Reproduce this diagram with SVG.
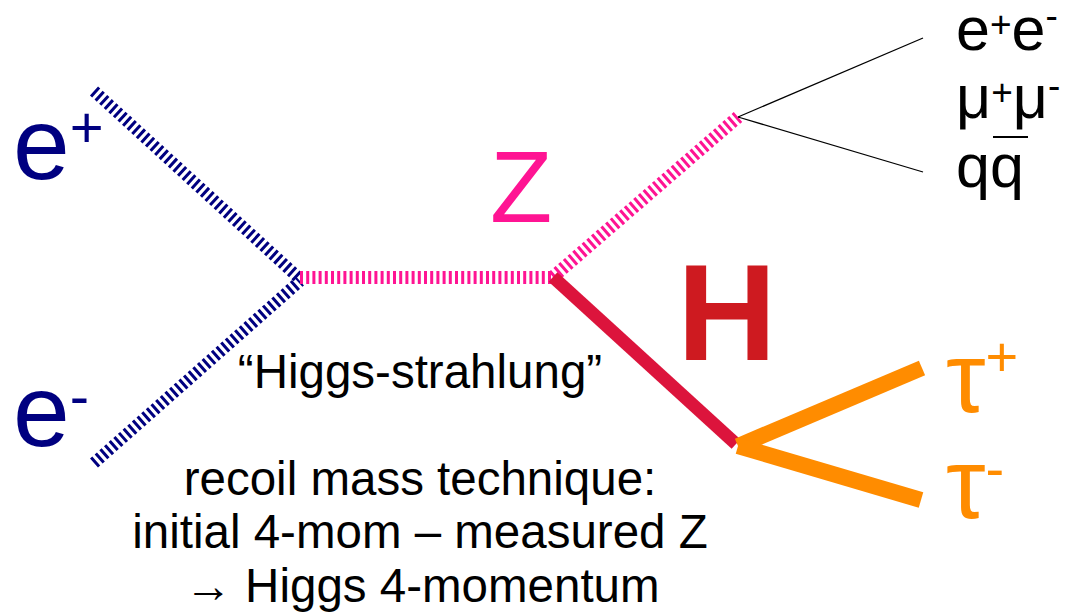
<svg xmlns="http://www.w3.org/2000/svg" width="1081" height="613" viewBox="0 0 1081 613">
  <style>
    text { font-family: "Liberation Sans", Arial, sans-serif; }
    .fermion { stroke: #000080; stroke-width: 12; stroke-dasharray: 3 3.2; fill: none; }
    .zboson { stroke: #FF1493; stroke-width: 13; stroke-dasharray: 3 3.2; fill: none; }
    .higgs { stroke: #DC143C; stroke-width: 13; fill: none; }
    .tau { stroke: #FF8C00; stroke-width: 16; fill: none; }
    .decay { stroke: #000000; stroke-width: 1.3; fill: none; }
    .lbl-e { fill: #000080; font-size: 102px; }
    .lbl-right { fill: #000000; font-size: 61px; }
    .sup { font-size: 37px; }
    .lbl-tau { fill: #FF8C00; font-size: 100px; }
    .caption { fill: #000000; font-size: 47.5px; text-anchor: middle; }
  </style>

  <rect width="1081" height="613" fill="#ffffff"/>

  <!-- propagators and external legs -->
  <g id="connectors">
    <line class="fermion" x1="94" y1="91" x2="300" y2="279"/>
    <line class="fermion" x1="94" y1="463" x2="300" y2="281"/>
    <line class="zboson" x1="300" y1="277.5" x2="553" y2="277.5"/>
    <line class="zboson" x1="553" y1="277" x2="738" y2="117"/>
    <line class="higgs" x1="553" y1="277" x2="736" y2="444"/>
    <line class="tau" x1="738" y1="446" x2="922" y2="368"/>
    <line class="tau" x1="738" y1="446" x2="921" y2="500"/>
    <line class="decay" x1="738" y1="117" x2="923" y2="38"/>
    <line class="decay" x1="738" y1="117" x2="923" y2="172"/>
  </g>

  <g id="label-eplus">
    <text class="lbl-e" x="13" y="179">e<tspan font-size="58" dy="-32">+</tspan></text>
  </g>
  <g id="label-eminus">
    <text class="lbl-e" x="13" y="446">e<tspan font-size="58" dy="-30">-</tspan></text>
  </g>

  <g id="label-z">
    <text x="490" y="222" font-size="102" fill="#FF1493">Z</text>
  </g>

  <g id="label-h">
    <text x="677" y="360" font-size="138" font-weight="bold" fill="#CE1A20">H</text>
  </g>

  <g id="z-decays">
    <text class="lbl-right" x="956" y="50">e<tspan class="sup" dy="-13">+</tspan><tspan dy="13">e</tspan><tspan class="sup" dy="-22">-</tspan></text>
    <text class="lbl-right" x="956" y="118">μ<tspan class="sup" dy="-13">+</tspan><tspan dy="13">μ</tspan><tspan class="sup" dy="-20">-</tspan></text>
    <text class="lbl-right" x="956" y="187">qq</text>
    <line x1="993" y1="137" x2="1028" y2="137" stroke="#000000" stroke-width="2"/>
  </g>

  <g id="label-tauplus">
    <text class="lbl-tau" x="946" y="412">τ<tspan font-size="56" dy="-36">+</tspan></text>
  </g>
  <g id="label-tauminus">
    <text class="lbl-tau" x="946" y="518">τ<tspan font-size="56" dy="-30">-</tspan></text>
  </g>

  <g id="caption">
    <text class="caption" x="420" y="388">“Higgs-strahlung”</text>
    <text class="caption" x="420" y="495">recoil mass technique:</text>
    <text class="caption" x="420" y="548">initial 4-mom – measured Z</text>
    <text class="caption" x="422" y="602">→ Higgs 4-momentum</text>
  </g>
</svg>
